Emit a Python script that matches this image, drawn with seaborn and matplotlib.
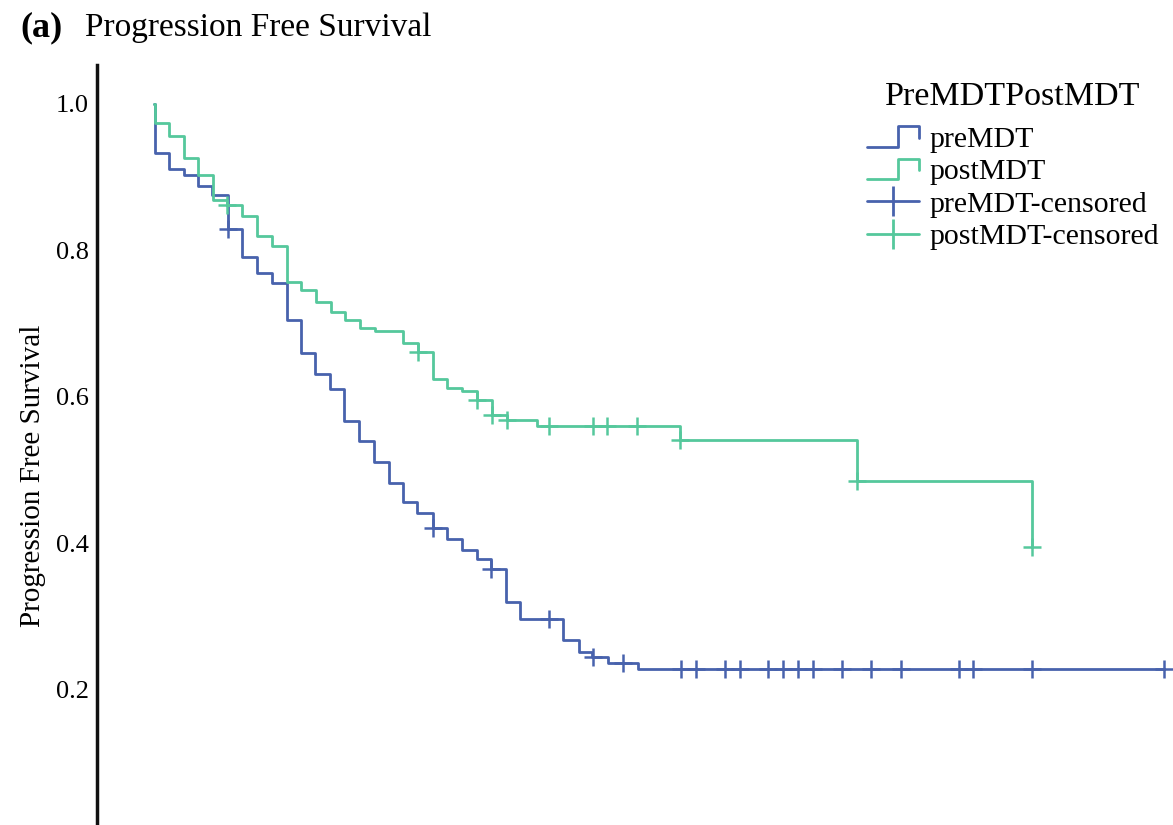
import numpy as np
import pandas as pd
import seaborn as sns
import matplotlib.pyplot as plt
from matplotlib.lines import Line2D
from matplotlib.legend_handler import HandlerBase

# Kaplan-Meier steps (time in months, survival)
pre_time = [0.0, 0.05, 1.53, 3.0, 4.37, 5.77, 7.37, 8.77, 10.27, 11.77, 13.27, 14.67,
            16.1, 17.6, 19.03, 20.53, 22.0, 23.5, 24.9, 26.33, 27.87, 29.27, 30.77,
            32.27, 33.67, 35.2, 36.6, 40.93, 42.5, 43.8, 45.43, 48.37]
pre_surv = [1.0, 0.933, 0.910, 0.902, 0.888, 0.875, 0.829, 0.791, 0.769, 0.755, 0.705, 0.660,
            0.631, 0.610, 0.567, 0.539, 0.510, 0.482, 0.456, 0.441, 0.420, 0.406, 0.390,
            0.378, 0.364, 0.319, 0.296, 0.267, 0.251, 0.244, 0.236, 0.228]
pre_cens = [7.37, 27.87, 33.67, 39.5, 43.87, 46.87, 52.7, 54.2, 57.1, 58.6, 61.43, 62.93,
            64.43, 65.93, 68.83, 71.7, 74.67, 80.53, 81.93, 87.83, 101.0]

post_time = [0.0, 0.05, 1.53, 3.0, 4.37, 5.93, 7.27, 8.77, 10.27, 11.77, 13.27, 14.67,
             16.17, 17.67, 19.1, 20.6, 22.1, 24.87, 26.37, 27.93, 29.27, 30.83, 32.27,
             33.77, 35.27, 38.27, 52.6, 70.27, 87.83]
post_surv = [1.0, 0.973, 0.955, 0.925, 0.902, 0.868, 0.861, 0.846, 0.819, 0.805, 0.757, 0.745,
             0.729, 0.716, 0.704, 0.693, 0.689, 0.673, 0.661, 0.624, 0.611, 0.607, 0.595,
             0.575, 0.568, 0.560, 0.541, 0.484, 0.395]
post_cens = [7.27, 26.37, 32.27, 33.77, 35.27, 39.53, 43.93, 45.33, 48.33, 52.6, 70.27, 87.83]

groups = ["preMDT", "postMDT"]
colors = {"preMDT": "#4862ad", "postMDT": "#55c89c"}


def level_at(times, surv, t):
    idx = np.searchsorted(times, t, side="right") - 1
    return np.asarray(surv)[idx]


sns.set_style("white")
plt.rcParams["font.family"] = ["Liberation Serif", "DejaVu Serif"]
plt.rcParams["text.color"] = "black"
plt.rcParams["ytick.color"] = "black"
plt.rcParams["axes.labelcolor"] = "black"

fig = plt.figure(figsize=(11.73, 8.25), dpi=100)
ax = fig.add_axes([97 / 1173, 0, (1173 - 97) / 1173, (825 - 65) / 825])

for name, times, surv, cens in [("preMDT", pre_time, pre_surv, pre_cens),
                                ("postMDT", post_time, post_surv, post_cens)]:
    t = list(times)
    s = list(surv)
    if max(cens) > t[-1]:
        t.append(max(cens))
        s.append(s[-1])
    line_df = pd.DataFrame({"time": t, "surv": s})
    sns.lineplot(data=line_df, x="time", y="surv", drawstyle="steps-post",
                 estimator=None, sort=False, color=colors[name], lw=2.0, ax=ax)
    cens_df = pd.DataFrame({"time": cens, "surv": level_at(times, surv, cens)})
    sns.scatterplot(data=cens_df, x="time", y="surv", marker="+", s=170,
                    color=colors[name], linewidth=1.8, ax=ax, clip_on=False, zorder=3)

ax.set_xlim(-5.7, 101.9)
ax.set_ylim(0.015, 1.0526)
ax.set_yticks([0.2, 0.4, 0.6, 0.8, 1.0])
ax.set_yticklabels(["0.2", "0.4", "0.6", "0.8", "1.0"], fontsize=19)
ax.tick_params(axis="y", length=0, pad=6)
ax.set_xticks([])
ax.set_xlabel("")
ax.set_ylabel("Progression Free Survival", fontsize=21)
ax.yaxis.set_label_coords(-0.047, 0.46)
for side in ["top", "right", "bottom"]:
    ax.spines[side].set_visible(False)
ax.spines["left"].set_linewidth(2.5)
ax.spines["left"].set_color("#111111")

fig.text(20 / 1173, 1 - 28 / 825, "(a)", fontsize=26, fontweight="bold", va="center")
fig.text(85 / 1173, 1 - 28 / 825, "Progression Free Survival", fontsize=24, va="center")


class HandlerStep(HandlerBase):
    def create_artists(self, legend, orig_handle, xdescent, ydescent, width, height,
                       fontsize, trans):
        x0, y0 = -xdescent, -ydescent
        xs = [x0, x0 + 0.6 * width, x0 + 0.6 * width, x0 + width, x0 + width]
        ys = [y0, y0, y0 + height, y0 + height, y0 + 0.45 * height]
        line = Line2D(xs, ys, color=orig_handle.get_color(), lw=2.0, transform=trans)
        return [line]


handles = [Line2D([], [], color=colors["preMDT"]),
           Line2D([], [], color=colors["postMDT"]),
           Line2D([], [], color=colors["preMDT"], lw=2, marker="|", markersize=22, mew=2),
           Line2D([], [], color=colors["postMDT"], lw=2, marker="|", markersize=22, mew=2)]
labels = ["preMDT", "postMDT", "preMDT-censored", "postMDT-censored"]
leg = fig.legend(handles, labels, title="PreMDTPostMDT", loc="upper right",
                 bbox_to_anchor=(1180 / 1173, 1 - 61 / 825), frameon=False,
                 fontsize=21.5, title_fontsize=24.5, handlelength=1.75, handletextpad=0.35,
                 labelspacing=0.18, borderpad=0.2,
                 handler_map={handles[0]: HandlerStep(), handles[1]: HandlerStep()})
leg._legend_box.sep = 10  # a bit more room under the legend title

fig.savefig("out.png", dpi=100)
